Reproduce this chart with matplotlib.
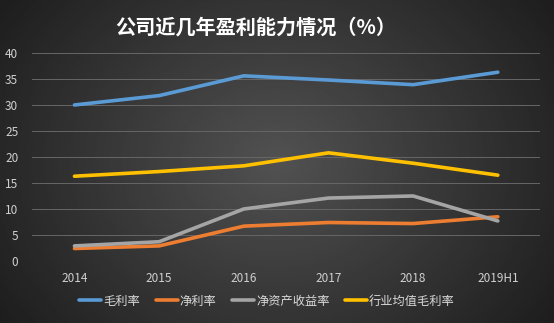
import numpy as np
import matplotlib
matplotlib.use("Agg")
import matplotlib.pyplot as plt

plt.rcParams['font.family'] = ['Noto Sans CJK SC', 'DejaVu Sans']

# === data ===
years = ["2014", "2015", "2016", "2017", "2018", "2019H1"]
gross_margin = [30.0, 31.8, 35.6, 34.8, 33.9, 36.3]
net_margin = [2.4, 2.9, 6.7, 7.4, 7.2, 8.5]
roe = [2.9, 3.7, 10.0, 12.1, 12.5, 7.7]
industry_gross = [16.3, 17.2, 18.3, 20.8, 18.8, 16.5]

series = [
    ("毛利率", gross_margin, "#5B9BD5"),
    ("净利率", net_margin, "#ED7D31"),
    ("净资产收益率", roe, "#A5A5A5"),
    ("行业均值毛利率", industry_gross, "#FFC000"),
]

fig = plt.figure(figsize=(5.54, 3.23), dpi=100)

# dark radial background (lighter in the middle)
bg = fig.add_axes([0, 0, 1, 1], zorder=-10)
yy, xx = np.mgrid[0:1:200j, 0:1:300j]
r = np.sqrt(((xx - 0.5) / 0.6) ** 2 + ((yy - 0.5) / 0.85) ** 2)
shade = 0.12 + 0.20 * np.clip(1 - r, 0, 1)
bg.imshow(shade, cmap="gray", vmin=0, vmax=1,
          aspect="auto", extent=[0, 1, 0, 1], origin="lower")
bg.axis("off")

ax = fig.add_axes([0.058, 0.192, 0.917, 0.644])
ax.patch.set_alpha(0)
x = np.arange(len(years))
for name, vals, color in series:
    ax.plot(x, vals, color=color, lw=2.6, label=name, solid_capstyle="round", zorder=3)

ax.set_ylim(0, 40)
ax.set_yticks(range(0, 41, 5))
ax.set_xlim(-0.5, len(years) - 0.5)
ax.set_xticks(x)
ax.set_xticklabels(years)
ax.grid(axis="y", color="#666666", lw=0.7)
ax.set_axisbelow(True)
for s in ax.spines.values():
    s.set_visible(False)
ax.tick_params(length=0, colors="#d0d0d0", labelsize=8.5)
ax.tick_params(axis="x", pad=8)
ax.tick_params(axis="y", pad=10)

fig.text(0.462, 0.915, "公司近几年盈利能力情况（%）", ha="center", va="center",
         color="white", fontsize=14.5, fontweight="bold")

leg = fig.legend(loc="center", bbox_to_anchor=(0.482, 0.068), ncol=4, frameon=False,
                 fontsize=8.8, handlelength=1.8, handletextpad=0.15, columnspacing=1.3)
for t in leg.get_texts():
    t.set_color("#d9d9d9")

fig.savefig("out.png", dpi=100)
